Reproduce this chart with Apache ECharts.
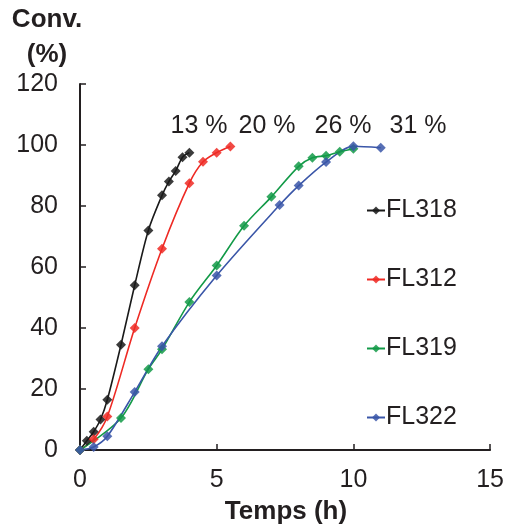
<!DOCTYPE html>
<html>
<head>
<meta charset="utf-8">
<script src="https://cdn.jsdelivr.net/npm/echarts@6/dist/echarts.min.js"></script>
<style>html,body{margin:0;padding:0;background:#fff;}#c{width:507px;height:528px;}</style>
</head>
<body>
<div id="c"></div>
<script>
const seriesNames = ['FL318', 'FL312', 'FL319', 'FL322'];
const colors = ['#1a1a1a', '#ee2a24', '#139a48', '#3a56a8'];
const fl318X = [0, 0.25, 0.5, 0.75, 1, 1.5, 2, 2.5, 3, 3.25, 3.5, 3.75, 4];
const fl318Y = [0, 3, 6, 10, 16.5, 34.5, 54, 72, 83.5, 88, 91.5, 96, 97.5];
const fl312X = [0, 0.5, 1, 2, 3, 4, 4.5, 5, 5.5];
const fl312Y = [0, 3.5, 11, 40, 66, 87.5, 94.5, 97.5, 99.5];
const fl319X = [0, 1.5, 2.5, 3, 4, 5, 6, 7, 8, 8.5, 9, 9.5, 10];
const fl319Y = [0, 10.5, 26.5, 33, 48.5, 60.5, 73.5, 83, 93, 95.8, 96.5, 97.8, 98.8];
const fl322X = [0, 0.5, 1, 2, 3, 5, 7.3, 8, 9, 10, 11];
const fl322Y = [0, 1, 4.5, 19, 34, 57.2, 80.3, 86.7, 94.4, 99.6, 99.1];
const annotations = ['13 %', '20 %', '26 %', '31 %'];
const xTicks = [0, 5, 10, 15];
const yTicks = [0, 20, 40, 60, 80, 100, 120];

const xs = [fl318X, fl312X, fl319X, fl322X];
const ys = [fl318Y, fl312Y, fl319Y, fl322Y];
const font = "'Liberation Sans', Arial, Helvetica, sans-serif";
const txt = '#231f20';

const chart = echarts.init(document.getElementById('c'), null, {renderer: 'canvas'});
const series = seriesNames.map((n, i) => ({
  name: n,
  type: 'line',
  data: xs[i].map((x, j) => [x, ys[i][j]]),
  smooth: 0.3,
  symbol: 'diamond',
  symbolSize: 10,
  showAllSymbol: true,
  lineStyle: {color: colors[i], width: 1.6},
  itemStyle: {color: colors[i], opacity: 0.85},
  emphasis: {disabled: true},
  animation: false
}));

const annLeft = [199, 267, 343, 418];
chart.setOption({
  animation: false,
  grid: {left: 80, right: 15, top: 84, bottom: 78, containLabel: false},
  xAxis: {
    type: 'value', min: 0, max: 15, interval: 5,
    axisLine: {show: true, lineStyle: {color: txt, width: 2}},
    axisTick: {show: true, inside: true, length: 6, lineStyle: {color: txt, width: 1.5}},
    axisLabel: {fontSize: 25, fontFamily: font, color: txt, margin: 18,
      formatter: v => xTicks.includes(v) ? String(v) : ''},
    splitLine: {show: false}
  },
  yAxis: {
    type: 'value', min: 0, max: 120, interval: 20,
    axisLine: {show: true, lineStyle: {color: txt, width: 2}},
    axisTick: {show: true, inside: true, length: 6, lineStyle: {color: txt, width: 1.5}},
    axisLabel: {fontSize: 25, fontFamily: font, color: txt, margin: 22,
      formatter: v => yTicks.includes(v) ? String(v) : ''},
    splitLine: {show: false}
  },
  legend: {
    orient: 'vertical', left: 361, top: 192, itemGap: 42,
    itemWidth: 18, itemHeight: 10,
    data: seriesNames,
    textStyle: {fontSize: 25, fontFamily: font, color: txt, lineHeight: 27, padding: [0, 0, 0, -4]},
    selectedMode: false
  },
  graphic: [
    {type: 'text', x: 47, y: 20, style: {text: 'Conv.', font: "bold 26px " + font, fill: txt, align: 'center', verticalAlign: 'middle'}},
    {type: 'text', x: 47, y: 55, style: {text: '(%)', font: "bold 26px " + font, fill: txt, align: 'center', verticalAlign: 'middle'}},
    {type: 'text', x: 286, y: 512, style: {text: 'Temps (h)', font: "bold 26px " + font, fill: txt, align: 'center', verticalAlign: 'middle'}}
  ].concat(annotations.map((a, i) => ({
    type: 'text', x: annLeft[i], y: 126,
    style: {text: a, font: "25px " + font, fill: txt, align: 'center', verticalAlign: 'middle'}
  }))),
  series: series
});
</script>
</body>
</html>
